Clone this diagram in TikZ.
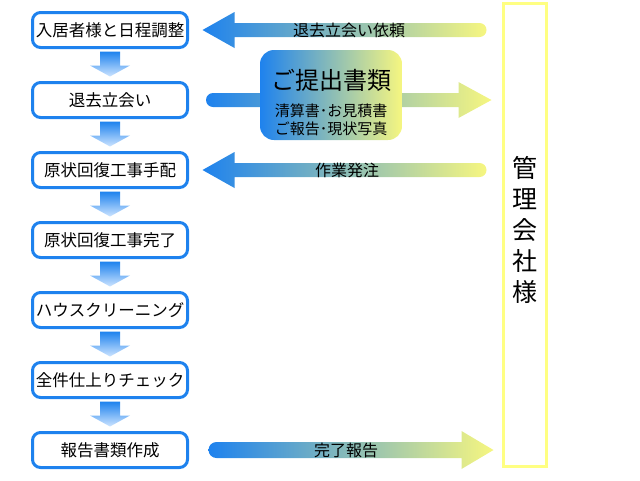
\documentclass[tikz,border=0pt]{standalone}
\usepackage{fontspec}
\setmainfont{Noto Sans CJK JP}
\usetikzlibrary{calc}

\definecolor{flowblue}{RGB}{30,130,238}
\definecolor{flowyellow}{RGB}{246,246,128}
\definecolor{lightblue}{RGB}{205,228,255}
\definecolor{kanriyellow}{RGB}{255,255,130}

\begin{document}
\begin{tikzpicture}[x=1pt, y=-1pt,
    stepbox/.style={draw=flowblue, line width=3pt, rounded corners=8pt, fill=white,
        minimum width=155pt, minimum height=35pt, inner sep=0pt,
        font=\fontsize{16.5}{18}\selectfont},
    kanribox/.style={draw=kanriyellow, line width=3pt, minimum width=43pt, minimum height=463pt},
    docsbox/.style={left color=flowblue, right color=flowyellow, rounded corners=14pt,
        minimum width=142pt, minimum height=90pt, align=center,
        font=\fontsize{15}{18}\selectfont},
    flowarrow/.style={left color=flowblue, right color=flowyellow},
    downarrow/.style={top color=flowblue, bottom color=lightblue},
    arrowlabel/.style={font=\fontsize{16}{18}\selectfont}]
    \useasboundingbox (0,0) rectangle (640,480);

    \node[stepbox] (s1) at (110,30) {入居者様と日程調整};
    \node[stepbox] (s2) at (110,100) {退去立会い};
    \node[stepbox] (s3) at (110,170) {原状回復工事手配};
    \node[stepbox] (s4) at (110,240) {原状回復工事完了};
    \node[stepbox] (s5) at (110,310) {ハウスクリーニング};
    \node[stepbox] (s6) at (110,380) {全件仕上りチェック};
    \node[stepbox] (s7) at (110,450) {報告書類作成};

    \node[kanribox] (kanri) at (525,235) {};
    \node[font=\fontsize{25}{31}\selectfont, align=center] (kanrilabel) at (525,230) {管\\理\\会\\社\\様};

    \foreach \a/\b in {s1/s2, s2/s3, s3/s4, s4/s5, s5/s6, s6/s7}
        \shade[downarrow] ($(\a.south)+(-10,2.5)$) -- ($(\b.north)+(-10,-15.5)$) -- ($(\b.north)+(-20,-15.5)$)
            -- ($(\b.north)+(0,-4.5)$) -- ($(\b.north)+(20,-15.5)$) -- ($(\b.north)+(10,-15.5)$)
            -- ($(\a.south)+(10,2.5)$) -- cycle;

    \coordinate (r1) at ($(kanri.west |- s1.east)+(-22.5,0)$);
    \coordinate (r3) at ($(kanri.west |- s3.east)+(-22.5,0)$);
    \coordinate (k2) at ($(kanri.west |- s2.east)+(-10.5,0)$);
    \coordinate (k7) at ($(kanri.west |- s7.east)+(-8.5,0)$);

    \shade[flowarrow] ($(s1.east)+(13.5,0)$) -- ($(s1.east)+(45.5,-18)$) -- ($(s1.east)+(45.5,-7)$)
        -- ($(r1)+(0,-7)$) arc (-90:90:7) -- ($(s1.east)+(45.5,7)$) -- ($(s1.east)+(45.5,18)$) -- cycle;
    \shade[flowarrow] ($(s3.east)+(13.5,0)$) -- ($(s3.east)+(45.5,-18)$) -- ($(s3.east)+(45.5,-7)$)
        -- ($(r3)+(0,-7)$) arc (-90:90:7) -- ($(s3.east)+(45.5,7)$) -- ($(s3.east)+(45.5,18)$) -- cycle;
    \shade[flowarrow] ($(s2.east)+(24,-7)$) -- ($(k2)+(-33,-7)$) -- ($(k2)+(-33,-18)$) -- (k2)
        -- ($(k2)+(-33,18)$) -- ($(k2)+(-33,7)$) -- ($(s2.east)+(24,7)$) arc (90:270:7) -- cycle;
    \shade[flowarrow] ($(s7.east)+(27.5,-8)$) -- ($(k7)+(-32,-8)$) -- ($(k7)+(-32,-19)$) -- (k7)
        -- ($(k7)+(-32,19)$) -- ($(k7)+(-32,8)$) -- ($(s7.east)+(27.5,8)$) arc (90:270:8) -- cycle;

    \node[arrowlabel] (l1) at (349,30) {退去立会い依頼};
    \node[arrowlabel] (l3) at (347,170) {作業発注};
    \node[arrowlabel] (l7) at (346,450) {完了報告};

    \node[docsbox] (docs) at (331,95) {{\fontsize{24}{26}\selectfont\rule{0pt}{35pt}ご提出書類}\\[9pt]清算書･お見積書\\ご報告･現状写真};
\end{tikzpicture}
\end{document}
